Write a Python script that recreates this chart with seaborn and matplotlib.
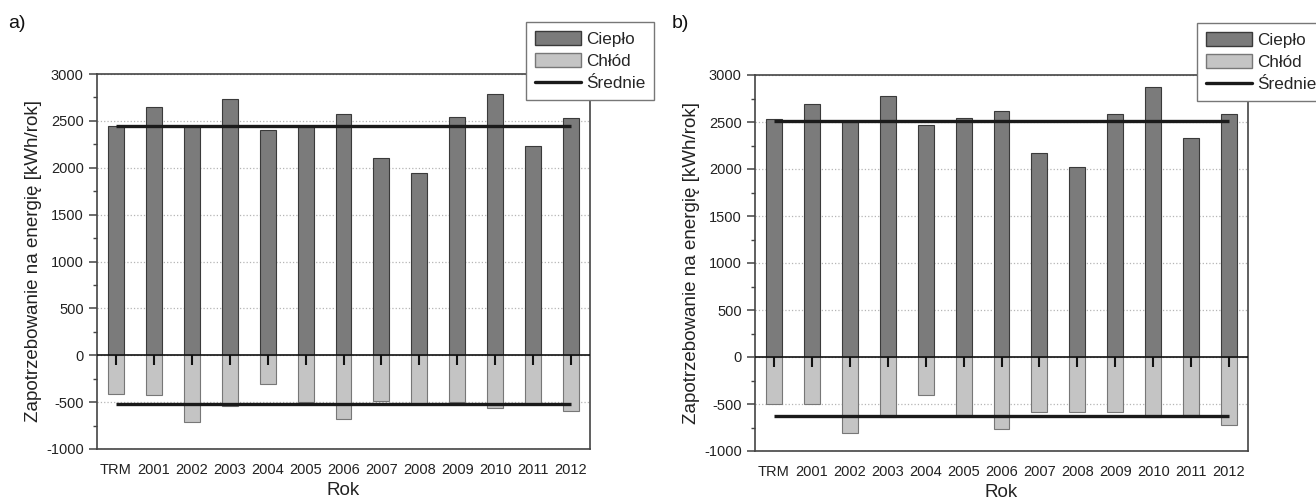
import seaborn as sns
import matplotlib.pyplot as plt
import matplotlib.ticker as mticker
import matplotlib.patches as mpatches
from matplotlib.lines import Line2D
import pandas as pd

years = ["TRM", "2001", "2002", "2003", "2004", "2005", "2006",
         "2007", "2008", "2009", "2010", "2011", "2012"]

# panel a)
heat_a = [2450, 2645, 2450, 2730, 2400, 2450, 2570, 2100, 1940, 2545, 2790, 2230, 2535]
cold_a = [-410, -420, -715, -540, -310, -495, -680, -490, -515, -500, -565, -520, -595]
mean_heat_a = 2450
mean_cold_a = -525

# panel b)
heat_b = [2535, 2695, 2500, 2775, 2465, 2540, 2620, 2170, 2025, 2590, 2870, 2330, 2590]
cold_b = [-495, -505, -810, -640, -400, -615, -765, -590, -590, -580, -635, -620, -725]
mean_heat_b = 2515
mean_cold_b = -625

heat_col = "#7b7b7b"
cold_col = "#c4c4c4"
frame_col = "#444444"

sns.set_style("ticks")
plt.rcParams['font.family'] = ['Liberation Sans', 'DejaVu Sans']
plt.rcParams['axes.unicode_minus'] = False

W, H = 1316, 503
fig = plt.figure(figsize=(W / 100, H / 100), dpi=100)
ax_a = fig.add_axes([97 / W, 1 - 449 / H, (590 - 97) / W, (449 - 74) / H])
ax_b = fig.add_axes([755 / W, 1 - 451 / H, (1248 - 755) / W, (451 - 75) / H])


def draw_panel(ax, heat, cold, mean_heat, mean_cold):
    df = pd.DataFrame({"Rok": years, "Ciepło": heat, "Chłód": cold})
    sns.barplot(data=df, x="Rok", y="Ciepło", color=heat_col, saturation=1,
                edgecolor="#3a3a3a", linewidth=0.8, width=0.42, ax=ax, zorder=2)
    sns.barplot(data=df, x="Rok", y="Chłód", color=cold_col, saturation=1,
                edgecolor="#777777", linewidth=0.8, width=0.42, ax=ax, zorder=2)
    pos = list(range(len(years)))
    ax.hlines([mean_heat, mean_cold], pos[0], pos[-1], color="#1a1a1a", lw=2.4, zorder=4)
    ax.axhline(0, color="#111111", lw=1.2, zorder=5)
    ax.plot(pos, [0] * len(pos), ls="none", marker=3, ms=7, mew=1.5, color="#111111", zorder=5)

    ax.set_xlim(-0.5, len(years) - 0.5)
    ax.set_ylim(-1000, 3000)
    ax.yaxis.set_major_locator(mticker.MultipleLocator(500))
    ax.yaxis.set_minor_locator(mticker.MultipleLocator(250))
    ax.grid(axis="y", which="major", linestyle=":", linewidth=0.9, color="#b5b5b5", zorder=0)
    ax.set_axisbelow(True)
    for spine in ax.spines.values():
        spine.set_visible(True)
        spine.set_color(frame_col)
        spine.set_linewidth(1.2)
    ax.tick_params(axis="x", length=0, pad=10, labelsize=10.5, labelcolor="#222222")
    ax.tick_params(axis="y", which="major", direction="out", length=6, width=1.1,
                   color=frame_col, labelsize=10.5, labelcolor="#222222")
    ax.tick_params(axis="y", which="minor", direction="out", length=3, width=1.0, color=frame_col)
    ax.set_xlabel("Rok", fontsize=13.5, labelpad=4, color="#222222")
    ax.set_ylabel("Zapotrzebowanie na energię [kWh/rok]", fontsize=13.5, labelpad=3, color="#222222")


draw_panel(ax_a, heat_a, cold_a, mean_heat_a, mean_cold_a)
draw_panel(ax_b, heat_b, cold_b, mean_heat_b, mean_cold_b)

fig.text(8 / W, 1 - 24 / H, "a)", fontsize=14, va="center", ha="left", color="#111111")
fig.text(672 / W, 1 - 24 / H, "b)", fontsize=14, va="center", ha="left", color="#111111")

handles = [
    mpatches.Patch(facecolor=heat_col, edgecolor="#3a3a3a", label="Ciepło"),
    mpatches.Patch(facecolor=cold_col, edgecolor="#777777", label="Chłód"),
    Line2D([0], [0], color="#1a1a1a", lw=2.4, label="Średnie"),
]
for x_left, y_top in [(526, 22), (1197, 23)]:
    leg = fig.legend(handles=handles, loc="upper left",
                     bbox_to_anchor=(x_left / W, 1 - y_top / H),
                     fontsize=12.3, frameon=True, fancybox=False, framealpha=1,
                     edgecolor="#777777", borderpad=0.5, labelspacing=0.38,
                     handlelength=2.7, handleheight=0.9, handletextpad=0.3,
                     borderaxespad=0)
    leg.get_frame().set_linewidth(1.0)

fig.savefig("out.png", dpi=100)
